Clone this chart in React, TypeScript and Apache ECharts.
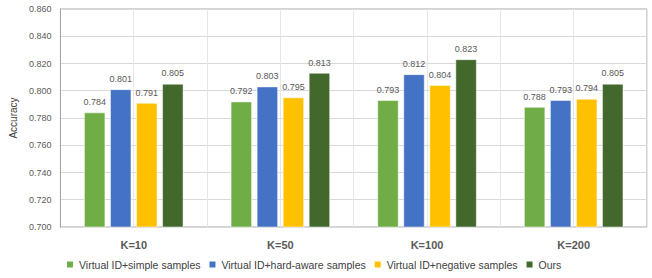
import React, { useEffect, useRef } from "react";
import * as echarts from "echarts";

const categories = ["K=10", "K=50", "K=100", "K=200"];
const seriesNames = [
  "Virtual ID+simple samples",
  "Virtual ID+hard-aware samples",
  "Virtual ID+negative samples",
  "Ours",
];
const simpleSamples = [0.784, 0.792, 0.793, 0.788];
const hardAwareSamples = [0.801, 0.803, 0.812, 0.793];
const negativeSamples = [0.791, 0.795, 0.804, 0.794];
const ours = [0.805, 0.813, 0.823, 0.805];
const colors = ["#70AD47", "#4472C4", "#FFC000", "#43682B"];

export default function App() {
  const ref = useRef<HTMLDivElement>(null);
  useEffect(() => {
    document.body.style.margin = "0";
    const chart = echarts.init(ref.current!, null, { renderer: "svg" });
    const values = [simpleSamples, hardAwareSamples, negativeSamples, ours];
    const font = "'Liberation Sans', Arial, sans-serif";
    chart.setOption({
      animation: false,
      textStyle: { fontFamily: font },
      grid: {
        left: 60,
        right: 5,
        top: 9,
        bottom: 51,
        show: true,
        borderColor: "#A6A6A6",
        borderWidth: 1,
      },
      legend: {
        bottom: 3,
        left: 60,
        itemWidth: 8,
        itemHeight: 8,
        itemGap: 7,
        icon: "rect",
        textStyle: { fontSize: 10.5, color: "#404040", fontFamily: font },
        data: seriesNames,
      },
      xAxis: [
        {
          type: "category",
          data: categories,
          axisLine: { show: false },
          axisTick: { show: false },
          splitLine: { show: false },
          axisLabel: {
            margin: 12,
            fontSize: 11,
            fontWeight: "bold",
            color: "#595959",
          },
        },
        {
          type: "category",
          data: ["a", "b", "c", "d", "e", "f", "g", "h"],
          position: "bottom",
          axisLine: { show: false },
          axisTick: { show: false },
          axisLabel: { show: false },
          splitLine: { show: true, lineStyle: { color: "#E6E6E6", width: 1 } },
        },
      ],
      yAxis: {
        type: "value",
        min: 0.7,
        max: 0.86,
        interval: 0.02,
        name: "Accuracy",
        nameLocation: "middle",
        nameGap: 39,
        nameRotate: 90,
        nameTextStyle: { fontSize: 10, color: "#404040" },
        axisLine: { show: true, lineStyle: { color: "#A6A6A6" } },
        axisTick: { show: false },
        axisLabel: {
          fontSize: 9,
          color: "#595959",
          margin: 9,
          formatter: (v: number) => v.toFixed(3),
        },
        splitLine: { show: true, lineStyle: { color: "#D9D9D9" } },
      },
      series: seriesNames.map((name, i) => ({
        name,
        type: "bar",
        xAxisIndex: 0,
        data: values[i],
        barWidth: 21,
        barGap: "24%",
        itemStyle: { color: colors[i], borderColor: "#FFFFFF", borderWidth: 0.5 },
        label: {
          show: true,
          position: "top",
          distance: 6,
          fontSize: 9,
          color: "#595959",
          formatter: (p: any) => Number(p.value).toFixed(3),
        },
      })),
    });
    return () => chart.dispose();
  }, []);
  return <div ref={ref} style={{ width: 652, height: 278 }} />;
}
